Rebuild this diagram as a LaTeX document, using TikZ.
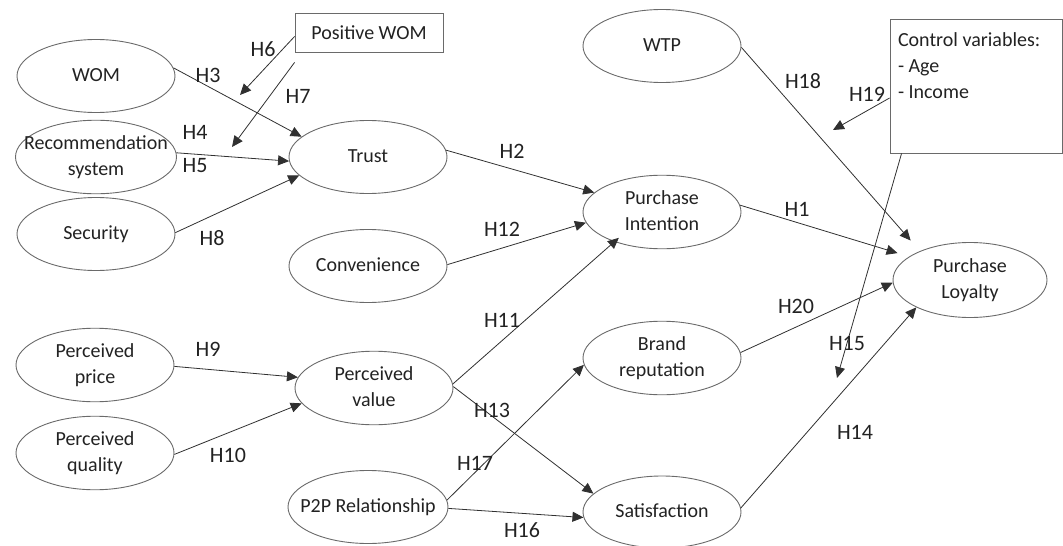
\documentclass[tikz,border=0pt]{standalone}
\usepackage{fontspec}
\setmainfont{Carlito}
\usetikzlibrary{shapes.geometric,arrows.meta}
\definecolor{ellgray}{HTML}{6A6A6A}
\definecolor{arrc}{HTML}{303030}
\definecolor{txtc}{HTML}{222222}
\newcommand{\tx}[1]{\makebox[0pt]{\begin{tabular}{@{}c@{}}#1\end{tabular}}}
\tikzset{
  ov/.style={ellipse, draw=ellgray, line width=0.9pt, minimum width=158pt, minimum height=73pt,
    inner sep=0pt, font=\fontsize{20}{26}\selectfont, text=txtc},
  hyp/.style={font=\fontsize{22}{26}\selectfont, text=txtc, inner sep=0pt},
  arr/.style={draw=arrc, line width=0.8pt, -{Triangle[length=11pt,width=10pt]}},
  bx/.style={rectangle, draw=ellgray, line width=0.9pt, inner sep=0pt,
    font=\fontsize{20}{26}\selectfont, text=txtc}
}
\begin{document}
\begin{tikzpicture}[x=1pt,y=-1pt]
\useasboundingbox (0,0) rectangle (1063,546);
% ellipses
\node[ov] (wom)    at (96,76)   {\tx{WOM}};
\node[ov, minimum width=161pt] (rec) at (96,157) {\tx{Recommendation\\system}};
\node[ov] (sec)    at (96,234)  {\tx{Security}};
\node[ov] (trust)  at (368,157) {\tx{Trust}};
\node[ov] (conv)   at (368,266) {\tx{Convenience}};
\node[ov] (pprice) at (95,365)  {\tx{Perceived\\price}};
\node[ov] (pqual)  at (95,453)  {\tx{Perceived\\quality}};
\node[ov] (pval)   at (374,388) {\tx{Perceived\\value}};
\node[ov, minimum width=160pt] (p2p) at (368,507) {\tx{P2P Relationship}};
\node[ov] (wtp)    at (662,46)  {\tx{WTP}};
\node[ov, minimum height=71pt] (pi) at (662,212) {\tx{Purchase\\Intention}};
\node[ov] (brand)  at (662,358) {\tx{Brand\\reputation}};
\node[ov, minimum height=72pt] (sat) at (662,512) {\tx{Satisfaction}};
\node[ov, minimum width=154pt, minimum height=75pt] (pl) at (970,280) {\tx{Purchase\\Loyalty}};
% boxes
\node[bx, minimum width=148pt, minimum height=39pt] (pwom) at (369,32.5) {Positive WOM};
\node[bx, minimum width=172pt, minimum height=134pt] (cv) at (976,86)
  {\parbox[c][134pt][t]{156pt}{\vspace*{14pt}Control variables:\\- Age\\- Income}};
% free ends
\coordinate (h6end) at (240,95);
\coordinate (h7end) at (232,147);
\coordinate (h19end) at (833,130);
\coordinate (h15end) at (837,378);
% connectors
\draw[arr] (wom.6) -- (trust.163);
\draw[arr] (rec.3) -- (trust.183);
\draw[arr] (sec.1) -- (trust.195);
\draw[arr] ([yshift=-4pt]pwom.west) -- (h6end);
\draw[arr] ([yshift=-10pt]pwom.south west) -- (h7end);
\draw[arr] (trust.5) -- (pi.164);
\draw[arr] (conv.1) -- (pi.188);
\draw[arr, shorten >=-6pt] (pval.3) -- (pi.212);
\draw[arr] (pprice.-1) -- (pval.172);
\draw[arr] (pqual.-1) -- (pval.192);
\draw[arr] (pval.1) -- (sat.165);
\draw[arr] (p2p.5) -- (brand.185);
\draw[arr] (p2p.-1) -- (sat.184);
\draw[arr, shorten >=12pt] (pi.5) -- (pl.159);
\draw[arr, shorten >=14pt] (wtp.-1) -- (pl.150);
\draw[arr] (brand.4) -- (pl.182);
\draw[arr] (sat.3) -- (pl.207);
\draw[arr] ([yshift=-12pt]cv.west) -- (h19end);
\draw[arr] ([xshift=12pt]cv.south west) -- (h15end);
% hypothesis labels
\node[hyp] (l6)  at (263,49)  {H6};
\node[hyp] (l3)  at (208,75)  {H3};
\node[hyp] (l7)  at (298,96)  {H7};
\node[hyp] (l4)  at (195,132) {H4};
\node[hyp] (l5)  at (195,166) {H5};
\node[hyp] (l8)  at (212,238) {H8};
\node[hyp] (l2)  at (512,151) {H2};
\node[hyp] (l12) at (502,229) {H12};
\node[hyp] (l11) at (502,320) {H11};
\node[hyp] (l13) at (492,410) {H13};
\node[hyp] (l17) at (475,463) {H17};
\node[hyp] (l16) at (522,530) {H16};
\node[hyp] (l9)  at (208,349) {H9};
\node[hyp] (l10) at (228,455) {H10};
\node[hyp] (l18) at (803,81)  {H18};
\node[hyp] (l19) at (867,94)  {H19};
\node[hyp] (l1)  at (797,209) {H1};
\node[hyp] (l20) at (796,306) {H20};
\node[hyp] (l15) at (847,343) {H15};
\node[hyp] (l14) at (855,432) {H14};
\end{tikzpicture}
\end{document}
